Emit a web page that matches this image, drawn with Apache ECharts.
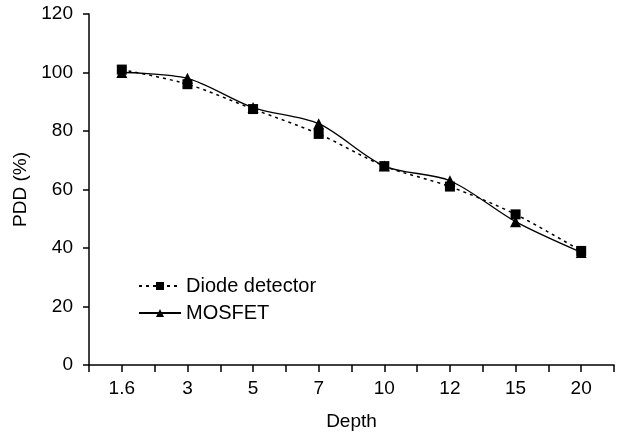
<!DOCTYPE html>
<html>
<head>
<meta charset="utf-8">
<script src="https://cdn.jsdelivr.net/npm/echarts@6/dist/echarts.min.js"></script>
<style>
  html, body { margin: 0; padding: 0; background: #fff; }
  #chart { width: 617px; height: 437px; }
</style>
</head>
<body>
<div id="chart"></div>
<script>
// depth categories and PDD values
var depths = ['1.6', '3', '5', '7', '10', '12', '15', '20']
var diode = [101, 96, 87.5, 79, 68, 61, 51.5, 39]
var mosfet = [100, 98, 88, 82.5, 68, 63, 49, 38.5]

var font = 'Liberation Sans, Arial, sans-serif'
var chart = echarts.init(document.getElementById('chart'))

var tick = { show: true, inside: false, length: 7, lineStyle: { color: '#000', width: 1.5 } }

chart.setOption({
  animation: false,
  textStyle: { fontFamily: font, color: '#000' },
  grid: { left: 89, right: 3, top: 14, bottom: 72 },
  legend: {
    orient: 'vertical',
    left: 133,
    top: 271,
    itemWidth: 42,
    itemHeight: 10,
    itemGap: 7,
    textStyle: { fontSize: 20, color: '#000', fontFamily: font },
    data: ['Diode detector', 'MOSFET']
  },
  xAxis: [
    {
      type: 'category',
      data: depths,
      boundaryGap: true,
      name: 'Depth',
      nameLocation: 'middle',
      nameGap: 47,
      nameTextStyle: { fontSize: 19, color: '#000' },
      axisLine: { show: true, lineStyle: { color: '#000', width: 1.5 } },
      axisTick: tick,
      axisLabel: { fontSize: 19, color: '#000', margin: 14 }
    },
    {
      // extra axis only for the ticks under each label
      type: 'category',
      data: depths,
      position: 'bottom',
      axisLine: { show: false },
      axisTick: { show: true, inside: false, alignWithLabel: true, length: 7, lineStyle: { color: '#000', width: 1.5 } },
      axisLabel: { show: false }
    }
  ],
  yAxis: {
    type: 'value',
    min: 0,
    max: 120,
    interval: 20,
    name: 'PDD (%)',
    nameLocation: 'middle',
    nameGap: 55,
    nameTextStyle: { fontSize: 19, color: '#000' },
    splitLine: { show: false },
    axisLine: { show: true, lineStyle: { color: '#000', width: 1.5 } },
    axisTick: { show: true, inside: false, length: 6, lineStyle: { color: '#000', width: 1.5 } },
    axisLabel: { fontSize: 19, color: '#000', margin: 16 }
  },
  series: [
    {
      name: 'Diode detector',
      type: 'line',
      data: diode,
      smooth: 0.3,
      symbol: 'rect',
      symbolSize: 10,
      itemStyle: { color: '#000' },
      lineStyle: { color: '#000', width: 1.5, type: [3, 4] }
    },
    {
      name: 'MOSFET',
      type: 'line',
      data: mosfet,
      smooth: 0.3,
      symbol: 'triangle',
      symbolSize: 11,
      itemStyle: { color: '#000' },
      lineStyle: { color: '#000', width: 1.3 }
    }
  ]
})
</script>
</body>
</html>
